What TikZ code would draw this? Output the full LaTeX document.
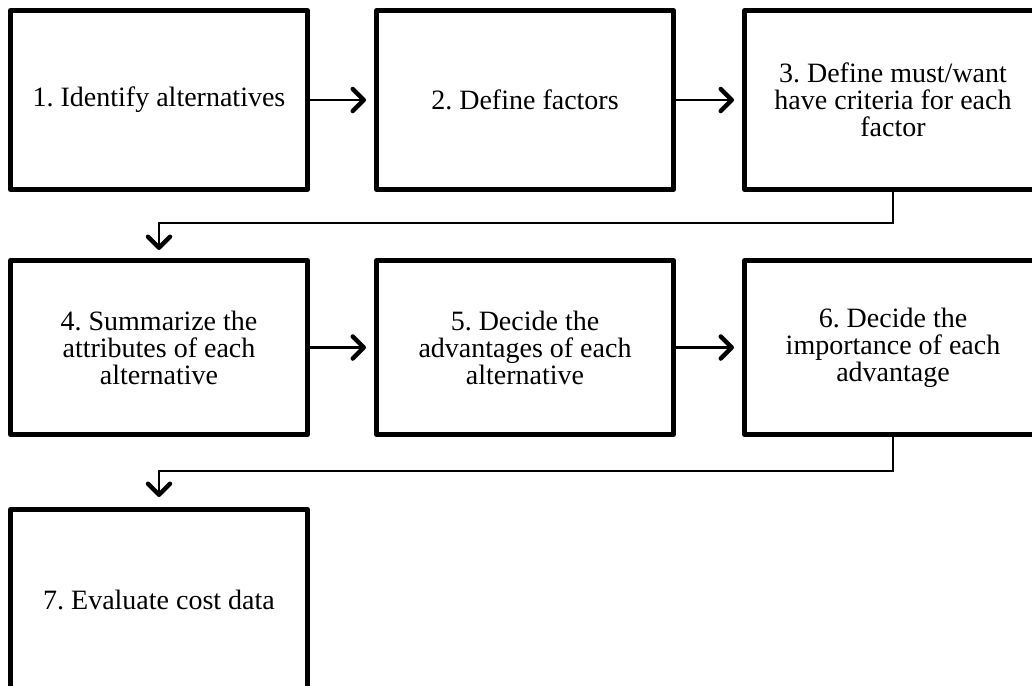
\documentclass[tikz,border=0pt]{standalone}
\usepackage{fontspec}
\setmainfont{Liberation Serif}
\usetikzlibrary{arrows.meta}
\frenchspacing
\begin{document}
\begin{tikzpicture}[x=1pt,y=-1pt,
  stepbox/.style={draw=black, line width=5pt, line join=round, rectangle,
    minimum width=297pt, align=center,
    font=\fontsize{28}{27}\selectfont, inner sep=0pt},
  conn/.style={line width=2.2pt, draw=black,
    -{Straight Barb[length=11pt,width=22pt,line width=4.5pt,round]}}]
\useasboundingbox (0,0) rectangle (1032,685);
\begin{scope}
\clip (0,0) rectangle (1032,685);
% top row
\node[stepbox, minimum height=179pt] (b1) at (159,100) {1. Identify alternatives};
\node[stepbox, minimum height=179pt] (b2) at (525,100) {2. Define factors};
\node[stepbox, minimum height=179pt] (b3) at (893,100) {3. Define must/want\\have criteria for each\\factor};
% middle row
\node[stepbox, minimum height=174pt] (b4) at (159,347.5) {4. Summarize the\\attributes of each\\alternative};
\node[stepbox, minimum height=174pt] (b5) at (525,347.5) {5. Decide the\\advantages of each\\alternative};
\node[stepbox, minimum height=174pt] (b6) at (893,347.5) {6. Decide the\\importance of each\\advantage};
% bottom row
\node[stepbox, minimum height=180pt] (b7) at (159,599.5) {7. Evaluate cost data};
\end{scope}
% connectors
\draw[conn, shorten >=8pt] (b1.east) -- (b2.west);
\draw[conn, shorten >=8pt] (b2.east) -- (b3.west);
\draw[conn, shorten >=8pt] (b4.east) -- (b5.west);
\draw[conn, shorten >=8pt] (b5.east) -- (b6.west);
\draw[conn, shorten >=8pt] (b3.south) -- ++(0,31) -| (b4.north);
\draw[conn, shorten >=10pt] (b6.south) -- ++(0,34) -| (b7.north);
\end{tikzpicture}
\end{document}
